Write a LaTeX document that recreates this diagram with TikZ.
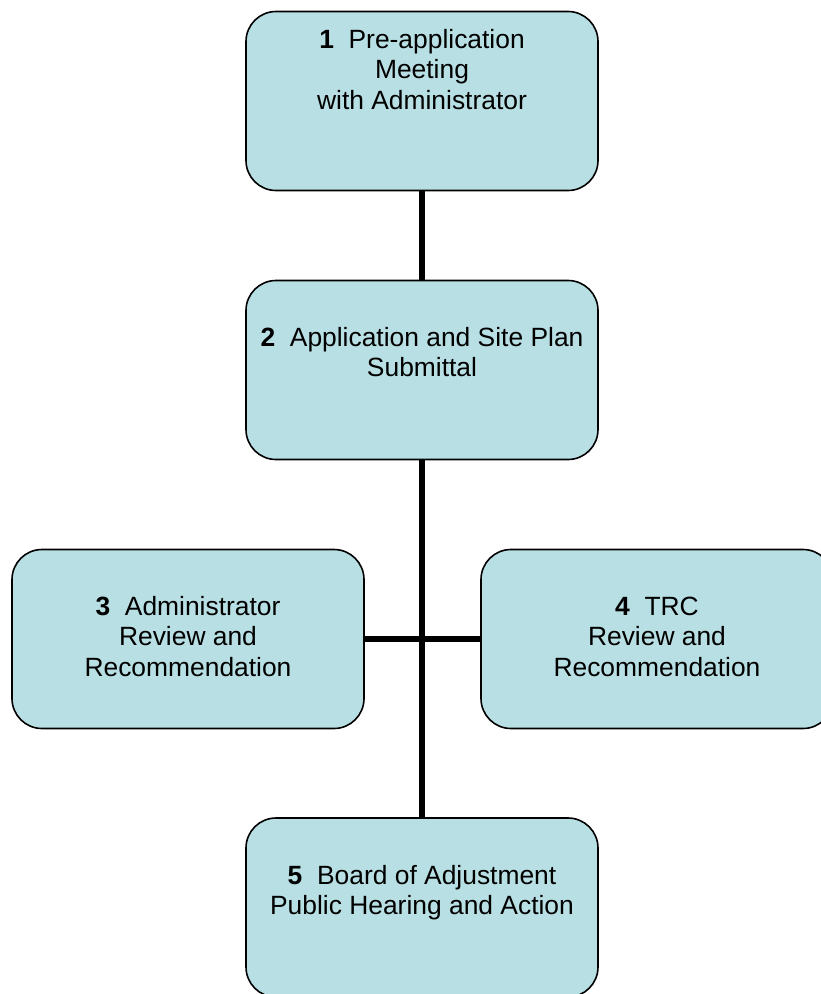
\documentclass[tikz,border=0pt]{standalone}
\usepackage{fontspec}
\setmainfont{Liberation Sans}
\usetikzlibrary{calc}
\definecolor{boxfill}{RGB}{184,223,227}
\begin{document}
\begin{tikzpicture}[x=1pt,y=-1pt,
  stepbox/.style={draw=black, line width=1.6pt, fill=boxfill,
    rounded corners=30pt, minimum width=352pt, minimum height=179pt,
    inner sep=0pt},
  % labels are anchored at the baseline of their last line
  steptext/.style={align=center, inner sep=0pt, anchor=base,
    font=\fontsize{26.4}{30.5}\selectfont},
  link/.style={line width=6pt, black}]
\useasboundingbox (0,0) rectangle (821,994);

% step boxes
\node[stepbox] (b1) at (422,101) {};
\node[stepbox] (b2) at (422,370) {};
\node[stepbox] (b3) at (188,639) {};
\node[stepbox] (b4) at (657,639) {};
\node[stepbox] (b5) at (422,907.5) {};

% connectors
\draw[link] (b1.south) -- (b2.north);
\draw[link] (b2.south) -- (b5.north);
\draw[link] (b3.east) -- (b4.west);

% step labels
\node[steptext] (t1) at ($(b1.north)+(0,98.5)$)
  {\textbf{1}\ \ Pre-application\\Meeting\\with Administrator};
\node[steptext] (t2) at ($(b2.north)+(0,97)$)
  {\textbf{2}\ \ Application and Site Plan\\Submittal};
\node[steptext] (t3) at ($(b3.north)+(0,127.5)$)
  {\textbf{3}\ \ Administrator\\Review and\\Recommendation};
\node[steptext] (t4) at ($(b4.north)+(0,127.5)$)
  {\textbf{4}\ \ TRC\\Review and\\Recommendation};
\node[steptext] (t5) at ($(b5.north)+(0,97.5)$)
  {\textbf{5}\ \ Board of Adjustment\\Public Hearing and Action};
\end{tikzpicture}
\end{document}
